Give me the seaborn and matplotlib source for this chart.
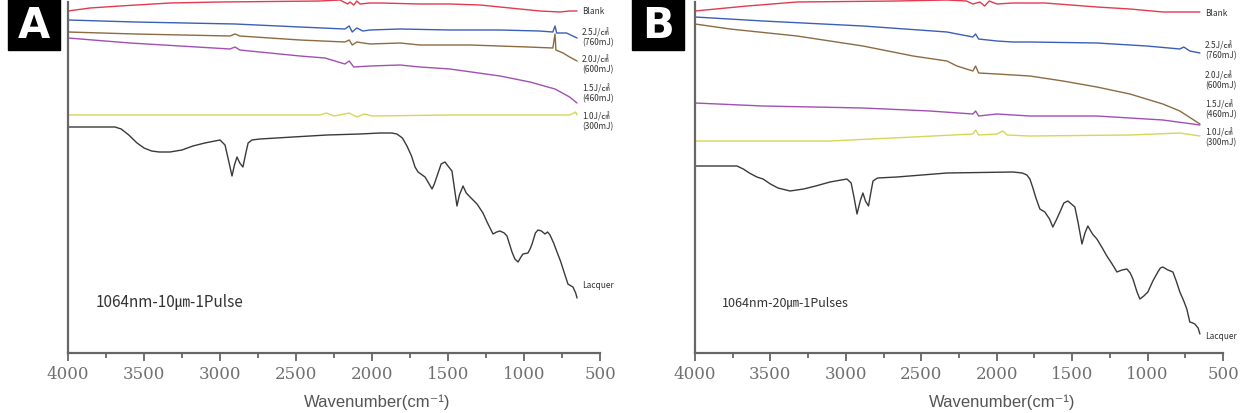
import numpy as np
import pandas as pd
import matplotlib
matplotlib.use("Agg")
import matplotlib.pyplot as plt
from matplotlib.patches import Rectangle
import seaborn as sns

sns.set_theme(style="ticks")

# (wavenumber, offset intensity) -- panel A (10um)
A_BLANK = [(4000, 342), (3855, 345), (3658, 347), (3329, 350), (3000, 351), (2671, 351.5), (2342, 352),
           (2211, 353), (2160, 349), (2145, 351), (2120, 348), (2100, 352), (2079, 349), (2013, 350),
           (1947, 350), (1684, 349), (1487, 349), (1289, 348), (1092, 345), (895, 342), (763, 341),
           (700, 342), (651, 342)]
A_25 = [(4000, 333), (3559, 331), (2901, 329), (2474, 326), (2178, 324), (2150, 327), (2130, 321),
        (2100, 325), (2060, 322), (2013, 323), (1816, 324), (1487, 323), (1158, 323), (900, 322),
        (810, 321), (796, 327), (785, 320), (720, 320), (651, 315)]
A_20 = [(4000, 321), (3559, 319), (2934, 317), (2901, 319), (2870, 317), (2474, 313), (2178, 311),
        (2150, 313), (2130, 308), (2100, 311), (2013, 309), (1816, 310), (1684, 308), (1355, 308),
        (974, 306), (810, 305), (796, 319), (790, 303), (743, 300), (700, 296), (651, 292)]
A_15 = [(4000, 315), (3592, 310), (2934, 304), (2901, 306), (2870, 303), (2474, 297), (2309, 295),
        (2178, 289), (2150, 292), (2120, 286), (2013, 287), (1816, 288), (1684, 286), (1487, 284),
        (1158, 277), (961, 271), (796, 264), (700, 256), (651, 250)]
A_10 = [(4000, 238), (3000, 238), (2342, 238), (2300, 240), (2250, 237), (2150, 240), (2100, 236),
        (2050, 239), (2000, 237), (1500, 238), (1000, 238), (700, 238), (660, 241), (651, 238)]
A_LACQ = [(4000, 226), (3691, 226), (3650, 224), (3600, 218), (3546, 210), (3500, 205), (3450, 202),
          (3400, 201), (3329, 201), (3250, 203), (3178, 207), (3100, 210), (3000, 213), (2967, 208),
          (2940, 190), (2921, 177), (2905, 188), (2888, 196), (2870, 190), (2849, 186), (2830, 200),
          (2815, 210), (2790, 213), (2737, 214), (2520, 216), (2296, 218), (2079, 219), (1947, 220),
          (1870, 220), (1836, 219), (1800, 215), (1770, 207), (1740, 197), (1717, 186), (1697, 181),
          (1651, 176), (1620, 168), (1605, 164), (1590, 169), (1572, 177), (1545, 189), (1520, 191),
          (1495, 186), (1474, 182), (1458, 165), (1441, 147), (1425, 158), (1401, 167), (1380, 160),
          (1355, 156), (1309, 149), (1270, 140), (1243, 131), (1204, 119), (1180, 121), (1158, 122),
          (1130, 120), (1112, 117), (1079, 101), (1060, 94), (1039, 91), (1020, 96), (1007, 99),
          (974, 100), (960, 104), (947, 109), (925, 120), (908, 123), (885, 122), (862, 119),
          (845, 121), (829, 118), (805, 110), (783, 101), (760, 92), (743, 84), (711, 69), (690, 67),
          (678, 66), (660, 60), (651, 55)]

# panel B (20um)
B_BLANK = [(4000, 342), (3655, 347), (3324, 351), (2661, 352), (2330, 353), (2200, 352), (2158, 349),
           (2111, 351), (2080, 347), (2050, 352), (1999, 349), (1893, 350), (1681, 350), (1336, 346),
           (1117, 344), (899, 341), (700, 341), (653, 341)]
B_25 = [(4000, 336), (3549, 332), (2887, 327), (2330, 321), (2158, 316), (2140, 319), (2120, 314),
        (1999, 312), (1893, 311), (1780, 311), (1336, 310), (1005, 307), (786, 304), (760, 306),
        (720, 302), (653, 300)]
B_20 = [(4000, 329), (3768, 324), (3324, 317), (2887, 307), (2555, 297), (2330, 292), (2264, 287),
        (2158, 282), (2140, 287), (2120, 280), (1999, 279), (1780, 277), (1561, 272), (1336, 266),
        (1117, 259), (899, 249), (786, 242), (653, 229)]
B_15 = [(4000, 250), (3549, 247), (2887, 245), (2443, 242), (2158, 239), (2140, 242), (2120, 237),
        (1999, 239), (1780, 237), (1336, 237), (899, 233), (653, 228)]
B_10 = [(4000, 212), (3105, 212), (2555, 216), (2158, 219), (2140, 223), (2120, 218), (1999, 219),
        (1960, 222), (1930, 218), (1780, 217), (1117, 218), (786, 220), (653, 217)]
B_LACQ = [(4000, 187), (3722, 187), (3680, 184), (3640, 180), (3590, 176), (3549, 174), (3500, 169),
          (3450, 165), (3370, 162), (3280, 164), (3200, 167), (3105, 171), (2993, 174), (2965, 170),
          (2945, 155), (2926, 139), (2905, 152), (2887, 160), (2870, 152), (2850, 147), (2835, 160),
          (2820, 172), (2790, 175), (2661, 176), (2330, 180), (1893, 181), (1830, 180), (1800, 178),
          (1780, 174), (1760, 165), (1740, 155), (1714, 144), (1681, 141), (1650, 134), (1628, 126),
          (1605, 133), (1581, 141), (1555, 150), (1528, 152), (1505, 149), (1482, 146), (1460, 130),
          (1435, 109), (1415, 120), (1396, 127), (1365, 119), (1336, 114), (1300, 105), (1270, 97),
          (1235, 89), (1203, 81), (1170, 83), (1137, 84), (1115, 80), (1097, 74), (1070, 61),
          (1051, 54), (1025, 57), (998, 61), (965, 72), (932, 81), (915, 85), (899, 86), (865, 83),
          (832, 81), (810, 72), (786, 61), (760, 52), (740, 44), (720, 31), (700, 30), (687, 29),
          (665, 25), (653, 19)]

COLORS = {"Blank": "#e23a4e", "2.5": "#3b5fb5", "2.0": "#8c6b40",
          "1.5": "#a24fb3", "1.0": "#d6d65a", "Lacquer": "#3a3a3a"}

LABELS = ["Blank", "2.5J/㎠\n(760mJ)", "2.0J/㎠\n(600mJ)", "1.5J/㎠\n(460mJ)", "1.0J/㎠\n(300mJ)", "Lacquer"]
A_LABEL_Y = [342, 316, 289, 260, 232, 68]
B_LABEL_Y = [341, 303, 273, 244, 216, 17]


def to_frame(series):
    rows = []
    for name, pts in series:
        for wn, v in pts:
            rows.append({"wn": wn, "val": v, "sample": name})
    return pd.DataFrame(rows)


fig = plt.figure(figsize=(12.48, 4.14), dpi=100)
axA = fig.add_axes([68 / 1248, 60 / 414, 532 / 1248, 354 / 414])
axB = fig.add_axes([695 / 1248, 60 / 414, 528 / 1248, 354 / 414])

panels = [
    (axA, [("Blank", A_BLANK), ("2.5", A_25), ("2.0", A_20), ("1.5", A_15), ("1.0", A_10), ("Lacquer", A_LACQ)],
     A_LABEL_Y, "1064nm-10㎛-1Pulse", 11),
    (axB, [("Blank", B_BLANK), ("2.5", B_25), ("2.0", B_20), ("1.5", B_15), ("1.0", B_10), ("Lacquer", B_LACQ)],
     B_LABEL_Y, "1064nm-20㎛-1Pulses", 9),
]

for ax, series, label_y, note, note_size in panels:
    df = to_frame(series)
    sns.lineplot(data=df, x="wn", y="val", hue="sample", palette=COLORS, sort=False,
                 estimator=None, linewidth=1.0, legend=False, ax=ax)
    ax.set_xlim(4000, 500)
    ax.set_ylim(0, 354)
    ax.set_yticks([])
    ax.set_ylabel("")
    ax.set_xticks(np.arange(4000, 499, -500))
    ax.set_xticks(np.arange(3750, 500, -500), minor=True)
    ax.tick_params(axis="x", which="major", length=6, width=1.3, color="#666666",
                   labelsize=12, labelcolor="#707070", pad=3)
    ax.tick_params(axis="x", which="minor", length=3.5, width=1.3, color="#666666")
    for lab in ax.get_xticklabels():
        lab.set_family("DejaVu Serif")
    for s in ["top", "right"]:
        ax.spines[s].set_visible(False)
    for s in ["left", "bottom"]:
        ax.spines[s].set_color("#666666")
        ax.spines[s].set_linewidth(1.6)
    ax.spines["left"].set_bounds(0, 351)
    ax.set_xlabel("Wavenumber(cm⁻¹)", fontsize=12, color="#555555",
                  family=["Liberation Sans", "DejaVu Sans"])
    ax.xaxis.set_label_coords(0.581, -0.115)

    for text, y in zip(LABELS, label_y):
        ax.text(618, y, text, fontsize=6, color="#333333", va="center", ha="left",
                linespacing=1.1, family=["Noto Sans CJK KR", "DejaVu Sans"], clip_on=False)
    ax.text(0.051, 0.145, note, transform=ax.transAxes, fontsize=note_size, color="#333333",
            va="center", ha="left", family=["Noto Sans CJK KR", "DejaVu Sans"])

for letter, x0 in [("A", 8), ("B", 632)]:
    fig.patches.append(Rectangle((x0 / 1248, 363 / 414), 52 / 1248, 51 / 414,
                                 transform=fig.transFigure, color="black"))
    fig.text((x0 + 26) / 1248, 388 / 414, letter, color="white", fontsize=30,
             fontweight="bold", ha="center", va="center", family="DejaVu Sans")

fig.savefig("out.png", dpi=100)
